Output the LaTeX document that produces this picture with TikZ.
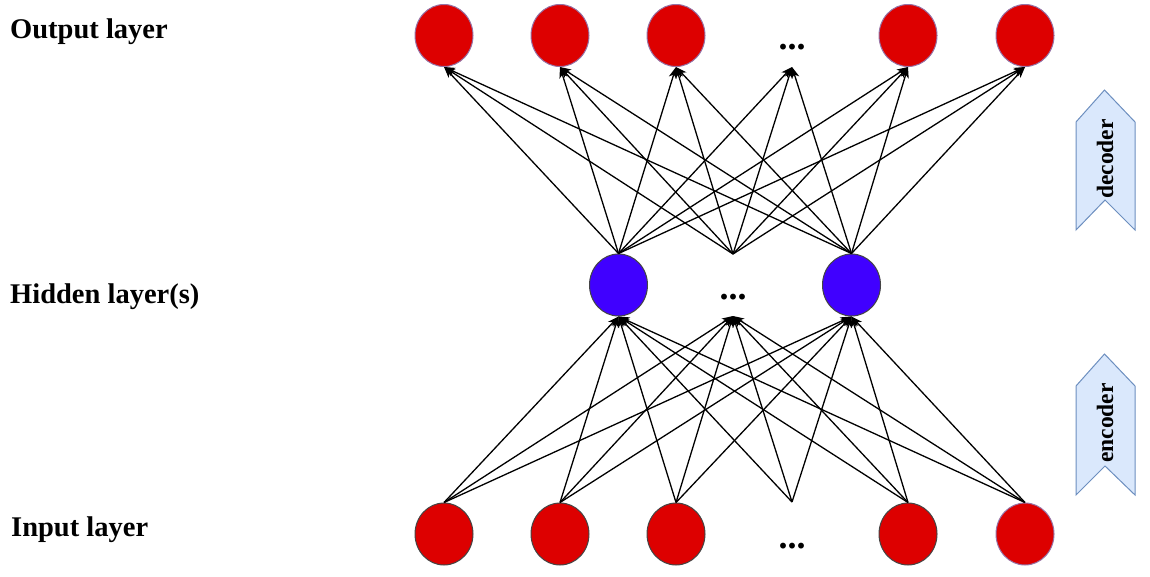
\documentclass[tikz,border=0pt]{standalone}
\usepackage{fontspec}
\setmainfont{Liberation Serif}
\usetikzlibrary{shapes.geometric,arrows.meta}
\definecolor{nred}{HTML}{DD0000}
\definecolor{nblue}{HTML}{4000FF}
\definecolor{ngray}{HTML}{444444}
\definecolor{npurple}{HTML}{9673A6}
\definecolor{chfill}{HTML}{DAE8FC}
\definecolor{chdraw}{HTML}{6C8EBF}
\begin{document}
\begin{tikzpicture}[x=1pt,y=-1pt,
  neuron/.style={ellipse,minimum width=58pt,minimum height=62pt,inner sep=0pt,line width=1pt},
  outn/.style={neuron,fill=nred,draw=npurple},
  inn/.style={neuron,fill=nred,draw=ngray},
  hidn/.style={neuron,fill=nblue,draw=ngray},
  edge/.style={line width=1.3pt,-{Stealth[length=11pt,width=8pt,inset=3pt]}},
  lbl/.style={anchor=base west,inner sep=0pt,font=\fontsize{28.5}{34}\selectfont\bfseries},
  dots/.style={inner sep=0pt,font=\fontsize{36}{40}\selectfont\bfseries},
  chev/.style={fill=chfill,draw=chdraw,line width=1pt,line join=miter},
  chtxt/.style={rotate=90,inner sep=0pt,font=\fontsize{23.5}{28}\selectfont\bfseries}
]
\useasboundingbox (0,0) rectangle (1150,576);

% labels
\node[lbl] (lo) at (10,38) {Output layer};
\node[lbl] (lh) at (10,303) {Hidden layer(s)};
\node[lbl] (li) at (11,536) {Input layer};

% output layer
\node[outn] (o1) at (444,35.5) {};
\node[outn] (o2) at (560,35.5) {};
\node[outn] (o3) at (676,35.5) {};
\node[dots] (od) at (792,47) {...};
\coordinate (odc) at (792,67);
\node[outn] (o4) at (908,35.5) {};
\node[outn] (o5) at (1025,35.5) {};

% hidden layer
\node[hidn] (h1) at (618.5,285) {};
\node[dots] (hd) at (733,297) {...};
\coordinate (hdt) at (733,254);
\coordinate (hdb) at (733,316);
\node[hidn] (h2) at (851.5,285) {};

% input layer
\node[inn] (i1) at (444,534) {};
\node[inn] (i2) at (560,534) {};
\node[inn] (i3) at (676,534) {};
\node[dots] (id) at (792,546) {...};
\coordinate (idc) at (792,502);
\node[inn] (i4) at (908,534) {};
\node[inn,draw=npurple] (i5) at (1025,534) {};

% encoder connections
\foreach \a in {i1.north,i2.north,i3.north,idc,i4.north,i5.north}
  \foreach \b in {h1.south,hdb,h2.south}
    \draw[edge] (\a) -- (\b);

% decoder connections
\foreach \a in {h1.north,hdt,h2.north}
  \foreach \b in {o1.south,o2.south,o3.south,odc,o4.south,o5.south}
    \draw[edge] (\a) -- (\b);

% chevrons
\draw[chev] (1076,122) -- (1104.5,90) -- (1135,122) -- (1135,230) -- (1105,200) -- (1076,230) -- cycle;
\node[chtxt] (dec) at (1105,159) {decoder};
\draw[chev] (1076,386) -- (1104.5,354) -- (1135,386) -- (1135,495) -- (1105,466) -- (1076,495) -- cycle;
\node[chtxt] (enc) at (1105,423) {encoder};
\end{tikzpicture}
\end{document}
